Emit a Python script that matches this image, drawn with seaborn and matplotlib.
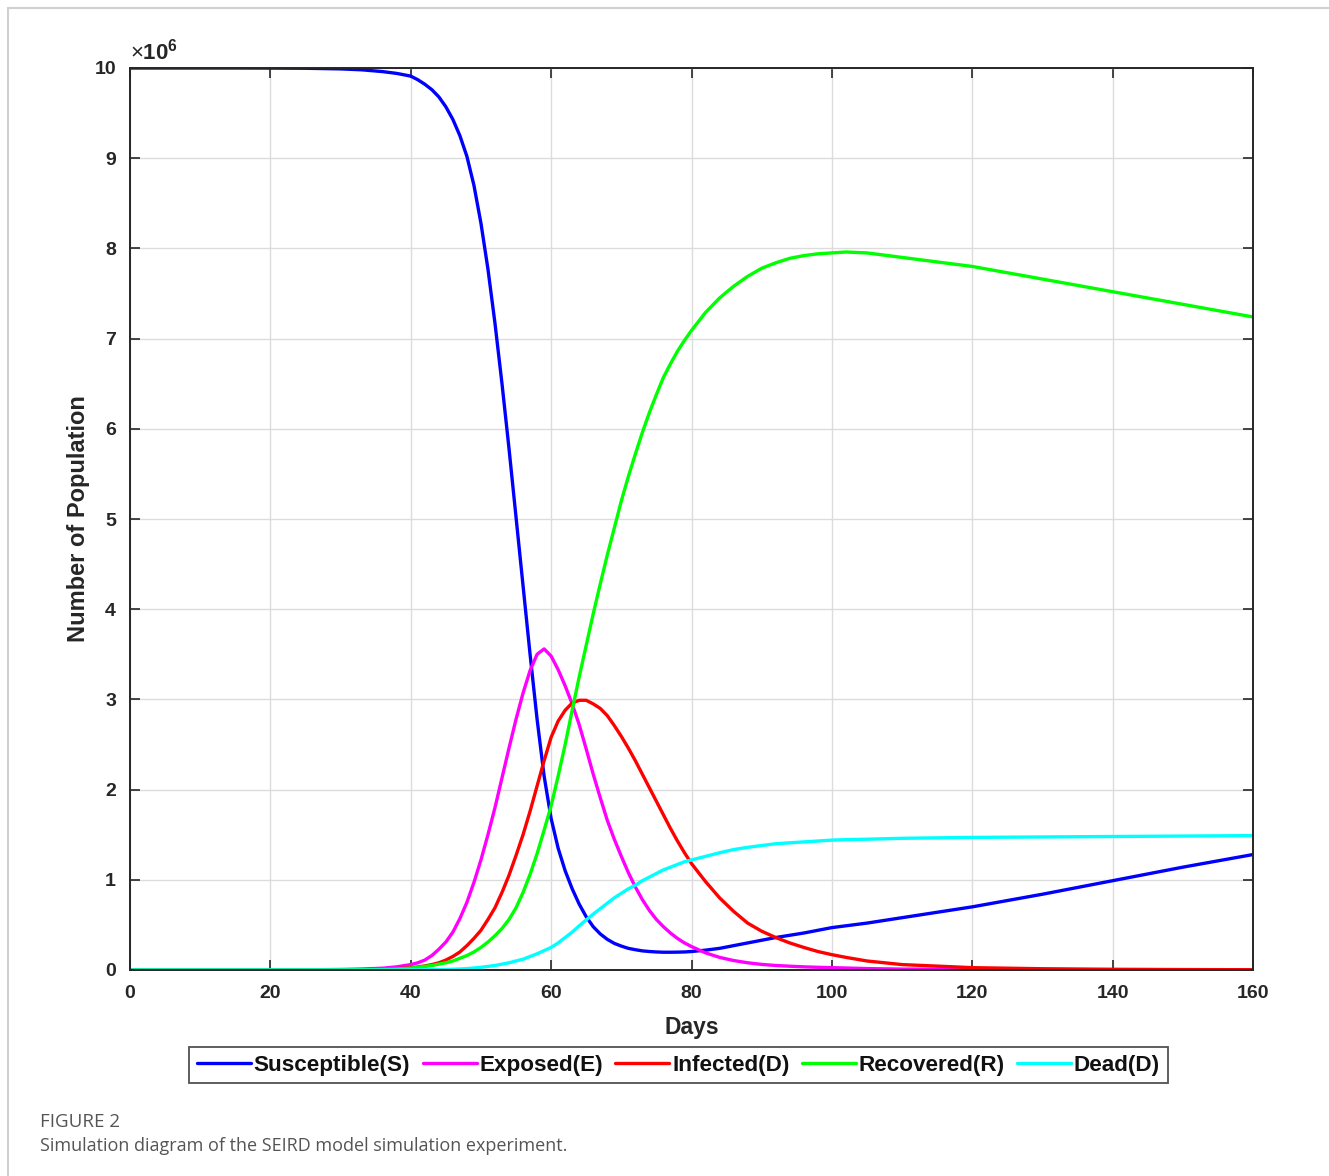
import numpy as np
import pandas as pd
import matplotlib
matplotlib.use("Agg")
import matplotlib.pyplot as plt
import seaborn as sns
from matplotlib.lines import Line2D

# ---------------- data (values in units of 10^6 persons) ----------------
days = [0, 5, 10, 15, 20, 25, 30, 33, 36, 38,
        40, 41, 42, 43, 44, 45, 46, 47, 48, 49, 50, 51, 52, 53, 54, 55, 56, 57, 58, 59,
        60, 61, 62, 63, 64, 65, 66, 67, 68, 69, 70,
        71, 72, 73, 74, 75, 76, 77, 78, 79, 80,
        82, 84, 86, 88, 90, 92, 94, 96, 98, 100,
        102, 105, 110, 120, 130, 140, 150, 160]

susceptible = [10.0, 10.0, 10.0, 10.0, 9.999, 9.997, 9.99, 9.98, 9.96, 9.94,
               9.91, 9.87, 9.82, 9.76, 9.68, 9.57, 9.43, 9.25, 9.02, 8.7, 8.28, 7.77,
               7.17, 6.5, 5.78, 5.02, 4.26, 3.5, 2.78, 2.15,
               1.68, 1.35, 1.1, 0.9, 0.73, 0.59, 0.48, 0.4, 0.34, 0.295, 0.265,
               0.24, 0.225, 0.212, 0.205, 0.2, 0.197, 0.197, 0.198, 0.2, 0.205,
               0.22, 0.24, 0.27, 0.3, 0.33, 0.36, 0.385, 0.41, 0.44, 0.47,
               0.49, 0.52, 0.58, 0.7, 0.84, 0.99, 1.14, 1.28]

exposed = [0.0, 0.0, 0.0, 0.0, 0.001, 0.002, 0.006, 0.01, 0.02, 0.035,
           0.06, 0.08, 0.11, 0.16, 0.23, 0.31, 0.42, 0.57, 0.75, 0.97, 1.22, 1.5, 1.8,
           2.13, 2.46, 2.78, 3.07, 3.32, 3.5, 3.56,
           3.48, 3.33, 3.15, 2.95, 2.72, 2.45, 2.17, 1.91, 1.66, 1.45, 1.26,
           1.08, 0.92, 0.78, 0.66, 0.56, 0.48, 0.41, 0.35, 0.3, 0.26,
           0.19, 0.14, 0.105, 0.08, 0.062, 0.05, 0.042, 0.035, 0.03, 0.026,
           0.022, 0.016, 0.01, 0.005, 0.003, 0.002, 0.001, 0.001]

infected = [0.0, 0.0, 0.0, 0.0, 0.0, 0.001, 0.003, 0.005, 0.01, 0.015,
            0.025, 0.034, 0.045, 0.06, 0.08, 0.11, 0.15, 0.2, 0.27, 0.35, 0.44, 0.56,
            0.69, 0.86, 1.05, 1.27, 1.5, 1.76, 2.04, 2.32,
            2.58, 2.76, 2.88, 2.96, 2.99, 2.99, 2.95, 2.9, 2.82, 2.71, 2.59,
            2.46, 2.32, 2.17, 2.02, 1.87, 1.72, 1.57, 1.43, 1.3, 1.18,
            0.98, 0.8, 0.65, 0.52, 0.43, 0.36, 0.3, 0.25, 0.205, 0.17,
            0.14, 0.1, 0.06, 0.026, 0.014, 0.008, 0.005, 0.003]

recovered = [0.0, 0.0, 0.0, 0.0, 0.0, 0.001, 0.002, 0.004, 0.008, 0.012,
             0.02, 0.03, 0.04, 0.05, 0.065, 0.08, 0.1, 0.13, 0.16, 0.2, 0.25, 0.31,
             0.38, 0.46, 0.56, 0.69, 0.86, 1.06, 1.29, 1.55,
             1.82, 2.15, 2.5, 2.88, 3.25, 3.6, 3.95, 4.28, 4.6, 4.9, 5.2,
             5.47, 5.72, 5.96, 6.18, 6.38, 6.57, 6.72, 6.86, 6.98, 7.09,
             7.29, 7.45, 7.58, 7.69, 7.78, 7.84, 7.89, 7.92, 7.94, 7.95,
             7.96, 7.95, 7.9, 7.8, 7.66, 7.52, 7.38, 7.24]

dead = [0.0, 0.0, 0.0, 0.0, 0.0, 0.0, 0.0, 0.0, 0.001, 0.001,
        0.002, 0.003, 0.003, 0.004, 0.005, 0.006, 0.008, 0.011, 0.015, 0.022, 0.03,
        0.04, 0.05, 0.065, 0.08, 0.1, 0.12, 0.15, 0.18, 0.215,
        0.25, 0.3, 0.36, 0.42, 0.49, 0.555, 0.62, 0.68, 0.74, 0.8, 0.85,
        0.9, 0.94, 0.99, 1.03, 1.07, 1.11, 1.14, 1.17, 1.2, 1.22,
        1.26, 1.3, 1.335, 1.36, 1.38, 1.4, 1.41, 1.42, 1.43, 1.44,
        1.445, 1.45, 1.46, 1.47, 1.475, 1.48, 1.485, 1.49]

series_names = ["Susceptible(S)", "Exposed(E)", "Infected(D)", "Recovered(R)", "Dead(D)"]
series_values = [susceptible, exposed, infected, recovered, dead]
colors = ["#0000FF", "#FF00FF", "#FF0000", "#00FF00", "#00FFFF"]

x_ticks = [0, 20, 40, 60, 80, 100, 120, 140, 160]
y_ticks = [0, 1, 2, 3, 4, 5, 6, 7, 8, 9, 10]

# ---------------- figure ----------------
sns.set_theme(style="white")
plt.rcParams["font.family"] = ["Liberation Sans", "DejaVu Sans"]
plt.rcParams["mathtext.fontset"] = "custom"
plt.rcParams["mathtext.rm"] = "Liberation Sans"
plt.rcParams["mathtext.bf"] = "Liberation Sans:bold"

W, H = 1329, 1176
fig = plt.figure(figsize=(W / 100, H / 100), dpi=100)
fig.patch.set_facecolor("white")

ax = fig.add_axes([130 / W, 1 - 970 / H, (1253 - 130) / W, (970 - 68) / H])

df = pd.concat(
    [pd.DataFrame({"Days": days, "Value": vals, "Series": name})
     for name, vals in zip(series_names, series_values)],
    ignore_index=True,
)
palette = dict(zip(series_names, colors))
sns.lineplot(data=df, x="Days", y="Value", hue="Series", palette=palette,
             linewidth=2.4, ax=ax, legend=False, sort=True)
for ln in ax.get_lines():
    ln.set_solid_joinstyle("round")
    ln.set_solid_capstyle("round")

ax.set_xlim(0, 160)
ax.set_ylim(0, 10)
ax.set_xticks(x_ticks)
ax.set_yticks(y_ticks)
ax.set_xticklabels([str(t) for t in x_ticks], fontsize=14, fontweight="bold")
ax.set_yticklabels([str(t) for t in y_ticks], fontsize=14, fontweight="bold")
ax.grid(True, color="#dcdcdc", linewidth=1.0)
ax.set_axisbelow(True)
for s in ax.spines.values():
    s.set_visible(True)
    s.set_color("#262626")
    s.set_linewidth(1.4)
ax.tick_params(axis="both", direction="in", length=7, width=1.2, color="#262626",
               top=True, right=True, bottom=True, left=True, labelcolor="#262626")
ax.tick_params(axis="x", pad=11)
ax.tick_params(axis="y", pad=10)

ax.set_xlabel("Days", fontsize=16.5, fontweight="bold", color="#262626", labelpad=10)
ax.set_ylabel("Number of Population", fontsize=17, fontweight="bold", color="#262626",
              labelpad=3)

ax.text(0.0, 1.004, r"$\times\mathbf{10^{6}}$", transform=ax.transAxes,
        ha="left", va="bottom", fontsize=16, color="#262626")

handles = [Line2D([0], [0], color=c, linewidth=2.4) for c in colors]
leg = fig.legend(handles, series_names, loc="center", ncol=5,
                 bbox_to_anchor=(678.5 / W, 1 - 1065 / H),
                 prop={"weight": "bold", "size": 16.2, "family": "Liberation Sans"},
                 frameon=True, fancybox=False, edgecolor="#262626",
                 handlelength=2.4, handletextpad=0.12, columnspacing=0.55,
                 borderpad=0.35, borderaxespad=0.0)
leg.get_frame().set_linewidth(1.3)
for t in leg.get_texts():
    t.set_color("#111111")

# caption
fig.text(40 / W, 1 - 1122 / H, "FIGURE 2", fontsize=13.5, color="#555555",
         family=["Open Sans", "DejaVu Sans"], ha="left", va="center")
fig.text(40 / W, 1 - 1146 / H,
         "Simulation diagram of the SEIRD model simulation experiment.",
         fontsize=13, color="#555555", family=["Open Sans", "DejaVu Sans"],
         ha="left", va="center")

# light outer frame
fig.add_artist(Line2D([8 / W, 1.0], [1 - 8 / H, 1 - 8 / H], transform=fig.transFigure,
                      color="#d0d0d0", linewidth=1.5))
fig.add_artist(Line2D([8 / W, 8 / W], [0.0, 1 - 8 / H], transform=fig.transFigure,
                      color="#d0d0d0", linewidth=1.5))

fig.savefig("out.png", dpi=100, facecolor="white")
